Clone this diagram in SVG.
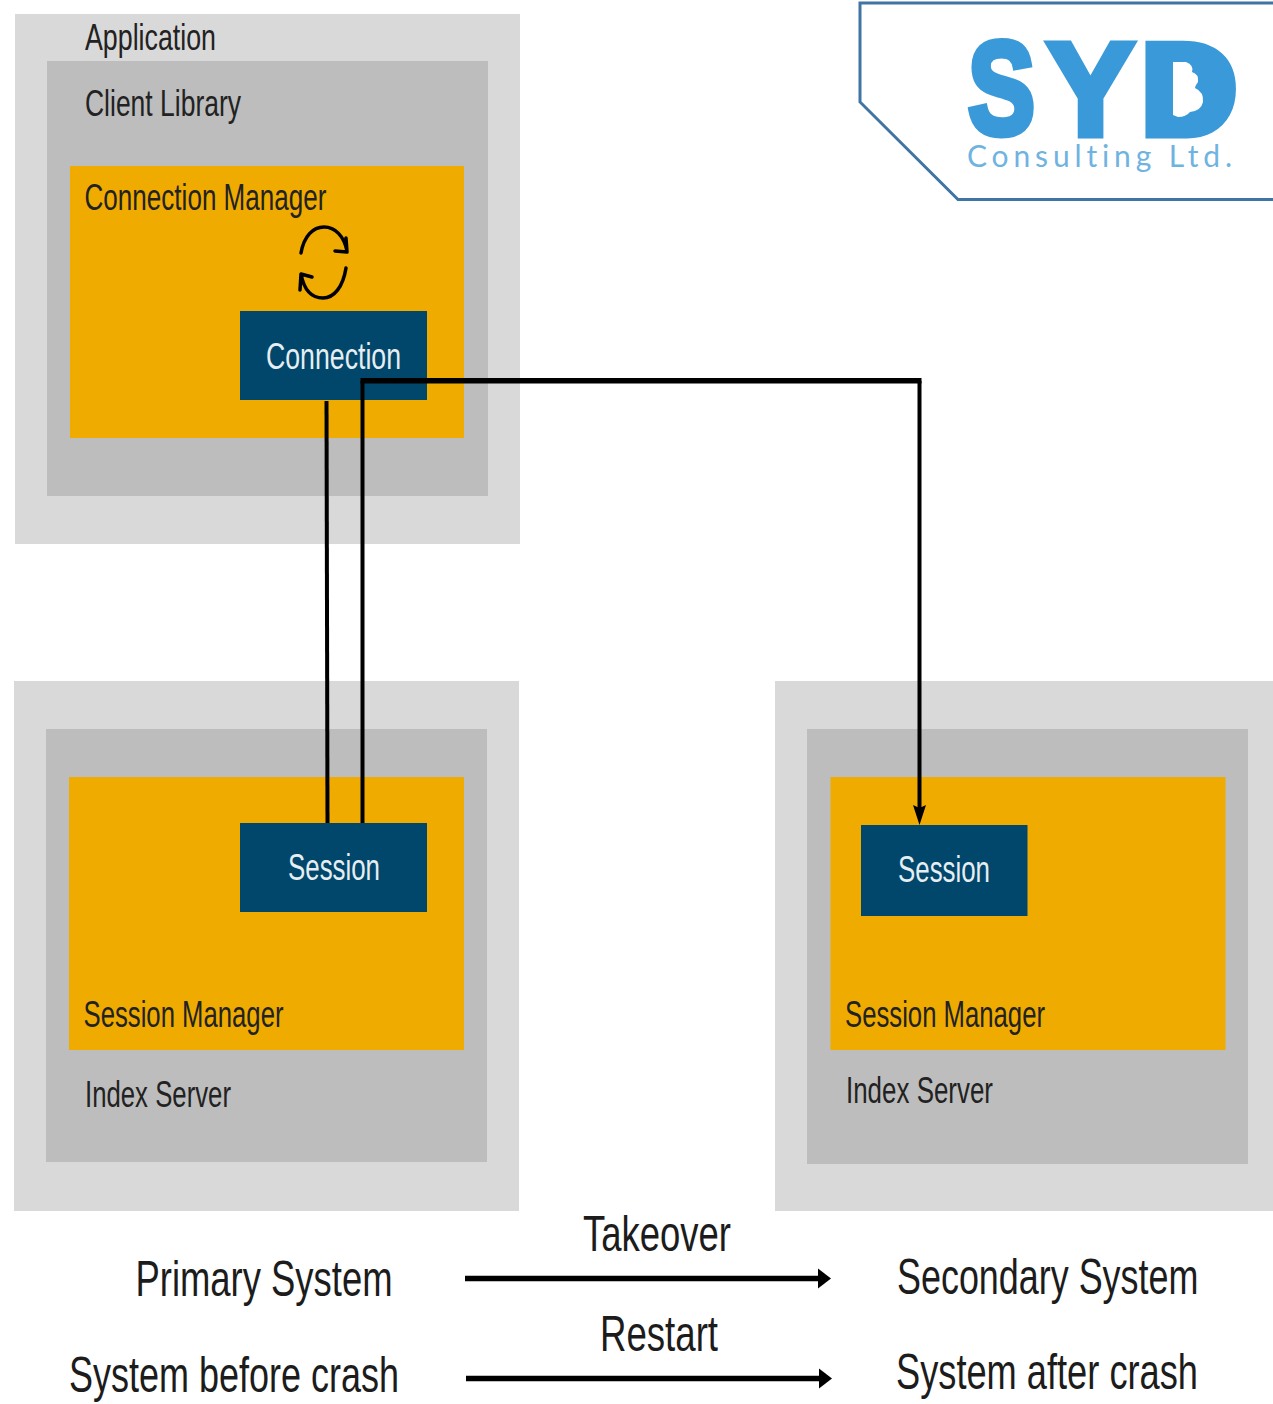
<svg xmlns="http://www.w3.org/2000/svg" width="1273" height="1404" viewBox="0 0 1273 1404">
<style>
.t{font-family:"Liberation Sans",Arial,sans-serif;font-size:36px;fill:#222;}
.w{font-family:"Liberation Sans",Arial,sans-serif;font-size:36px;fill:#e6eef2;}
.b{font-family:"Liberation Sans",Arial,sans-serif;font-size:50px;fill:#1c1c1c;}
.s{font-family:"Liberation Sans",Arial,sans-serif;font-weight:700;font-size:132px;fill:#3a9ad9;stroke:#3a9ad9;stroke-width:7;}
.l1{fill:#d9d9d9}.l2{fill:#bdbdbd}.l3{fill:#f0ab00}.l4{fill:#00476b}
.c{fill:none;stroke:#000;stroke-width:4}
.h{fill:none;stroke:#000;stroke-width:5.500}
.r{fill:none;stroke:#000;stroke-width:3.500;stroke-linecap:round;stroke-linejoin:round}
</style>
<defs>
<marker id="a1" markerUnits="userSpaceOnUse" markerWidth="22" markerHeight="16" refX="8" refY="8" orient="auto"><path d="M0 1.500L20 8L0 14.500L3 8Z" fill="#000"/></marker>
<marker id="a2" markerUnits="userSpaceOnUse" markerWidth="16" markerHeight="22" refX="4" refY="11" orient="auto"><path d="M0 1L13 11L0 21Z" fill="#000"/></marker>
</defs>
<rect width="1273" height="1404" fill="#fff"/>
<g id="application">
<rect class="l1" x="15" y="14" width="505" height="530"/>
<text class="t" x="85" y="50" textLength="131" lengthAdjust="spacingAndGlyphs">Application</text>
</g>
<g id="client-library">
<rect class="l2" x="47" y="61" width="441" height="435"/>
<text class="t" x="85" y="116" textLength="156" lengthAdjust="spacingAndGlyphs">Client Library</text>
</g>
<g id="connection-manager">
<rect class="l3" x="70" y="166" width="394" height="272"/>
<text class="t" x="84.500" y="210" textLength="242" lengthAdjust="spacingAndGlyphs">Connection Manager</text>
<path class="r" d="M301 253C304 236 313 227 324 227C335 227 344 236 347 251M335 251L347 252L346 238"/>
<path class="r" d="M346 268C343 287 334 298 323 298C312 298 304 290 301 274M300 290L301 274L312 277"/>
</g>
<g id="connection">
<rect class="l4" x="240" y="311" width="187" height="89"/>
<text class="w" x="266" y="369" textLength="135" lengthAdjust="spacingAndGlyphs">Connection</text>
</g>
<g id="primary-index-server">
<rect class="l1" x="14" y="681" width="505" height="530"/>
<rect class="l2" x="46" y="729" width="441" height="433"/>
<text class="t" x="85" y="1107" textLength="146" lengthAdjust="spacingAndGlyphs">Index Server</text>
</g>
<g id="primary-session-manager">
<rect class="l3" x="69" y="777" width="395" height="273"/>
<text class="t" x="83.500" y="1027" textLength="200" lengthAdjust="spacingAndGlyphs">Session Manager</text>
</g>
<g id="primary-session">
<rect class="l4" x="240" y="823" width="187" height="89"/>
<text class="w" x="288" y="880" textLength="92" lengthAdjust="spacingAndGlyphs">Session</text>
</g>
<g id="secondary-index-server">
<rect class="l1" x="775" y="681" width="498" height="530"/>
<rect class="l2" x="807" y="729" width="441" height="435"/>
<text class="t" x="846" y="1103" textLength="147" lengthAdjust="spacingAndGlyphs">Index Server</text>
</g>
<g id="secondary-session-manager">
<rect class="l3" x="830.500" y="777" width="395" height="273"/>
<text class="t" x="845" y="1027" textLength="200" lengthAdjust="spacingAndGlyphs">Session Manager</text>
</g>
<g id="secondary-session">
<rect class="l4" x="861" y="825" width="166.500" height="91"/>
<text class="w" x="898" y="882" textLength="92" lengthAdjust="spacingAndGlyphs">Session</text>
</g>
<g id="connectors">
<path class="c" d="M326.500 401L327.500 823"/>
<path class="c" d="M362.500 823L362.500 381"/>
<path class="h" d="M360.500 380.700L921.500 380.700"/>
<path class="c" d="M919.500 381L919.500 813" marker-end="url(#a1)"/>
<path class="h" d="M465 1278.500L822 1278.500" marker-end="url(#a2)"/>
<path class="h" d="M466 1378.500L823 1378.500" marker-end="url(#a2)"/>
</g>
<g id="legend">
<text class="b" x="135.500" y="1296" textLength="257" lengthAdjust="spacingAndGlyphs">Primary System</text>
<text class="b" x="69" y="1392" textLength="330" lengthAdjust="spacingAndGlyphs">System before crash</text>
<text class="b" x="583" y="1251" textLength="148" lengthAdjust="spacingAndGlyphs">Takeover</text>
<text class="b" x="600" y="1351" textLength="118" lengthAdjust="spacingAndGlyphs">Restart</text>
<text class="b" transform="translate(897 1294) scale(.7185 1)">Secondary System</text>
<text class="b" transform="translate(896 1389) scale(.7246 1)">System after crash</text>
</g>
<g id="logo">
<path d="M1273 3L860 3L860 102L958 199.500L1273 199.500" fill="#fff" stroke="#3f74a3" stroke-width="3"/>
<text class="s" x="968" y="134" textLength="67" lengthAdjust="spacingAndGlyphs">S</text>
<text class="s" x="1047" y="135" textLength="87" lengthAdjust="spacingAndGlyphs">Y</text>
<text class="s" x="1140" y="135" textLength="98" lengthAdjust="spacingAndGlyphs">D</text>
<rect x="1165" y="55" width="44" height="68" fill="#3a9ad9"/>
<path d="M1173 62L1186 62Q1194 65 1192 72Q1199 74 1198 82Q1195 86 1195 88Q1204 92 1203 102Q1201 111 1190 112Q1186 117 1178 117L1173 115Z" fill="#fff"/>
<text x="967" y="167" textLength="265" style="font-variant-ligatures:none" font-family="Lato,'Liberation Sans',sans-serif" font-size="30" fill="#6fb3e0">Consulting Ltd.</text>
</g>
</svg>
